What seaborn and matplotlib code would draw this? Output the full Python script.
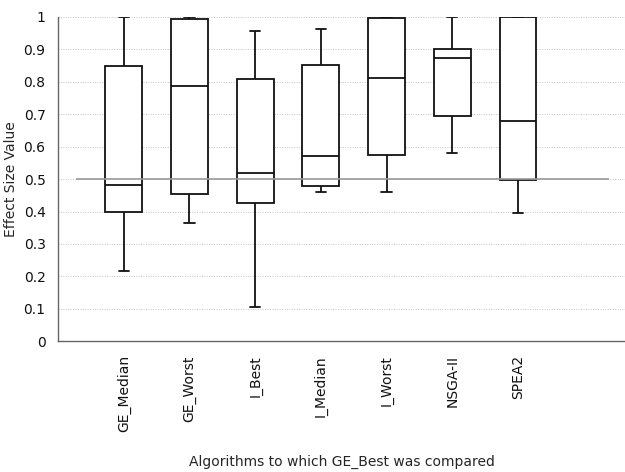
import matplotlib
matplotlib.use("Agg")
import matplotlib.pyplot as plt
import numpy as np
import pandas as pd
import seaborn as sns

# Summary values (whisker low, Q1, median, Q3, whisker high)
algorithms = ['GE_Median', 'GE_Worst', 'I_Best', 'I_Median', 'I_Worst', 'NSGA-II', 'SPEA2']
whisker_low = [0.216, 0.364, 0.106, 0.461, 0.461, 0.581, 0.397]
q1 = [0.399, 0.454, 0.425, 0.479, 0.575, 0.696, 0.496]
median = [0.483, 0.786, 0.519, 0.571, 0.811, 0.872, 0.680]
q3 = [0.848, 0.995, 0.809, 0.851, 0.998, 0.902, 1.000]
whisker_high = [1.000, 1.000, 0.958, 0.963, 1.000, 1.000, 1.000]
y_ticks = [0, 0.1, 0.2, 0.3, 0.4, 0.5, 0.6, 0.7, 0.8, 0.9, 1]
reference_level = 0.5

# five points per group -> quartiles land exactly on the read values
rows = []
for i, name in enumerate(algorithms):
    for v in (whisker_low[i], q1[i], median[i], q3[i], whisker_high[i]):
        rows.append({'algorithm': name, 'value': v})
df = pd.DataFrame(rows)

sns.set_style('white')
plt.rcParams['font.family'] = ['DejaVu Sans']

fig = plt.figure(figsize=(6.25, 4.72), dpi=100)
ax = fig.add_axes([0.093, 0.277, 0.907, 0.687])

line_kw = dict(color='#111111', linewidth=1.3)
sns.boxplot(data=df, x='algorithm', y='value', order=algorithms, ax=ax,
            whis=np.inf, width=0.56, color='white', linecolor='#111111',
            linewidth=1.3, showfliers=False, capwidths=0.16,
            boxprops=dict(facecolor='white', edgecolor='#111111', linewidth=1.3, zorder=3),
            medianprops=dict(color='#111111', linewidth=1.3, zorder=4),
            whiskerprops=dict(zorder=3, **line_kw),
            capprops=dict(zorder=3, **line_kw))

# reference line at 0.5
ax.hlines(reference_level, -0.73, 7.38, color='#999999', linewidth=1.2, zorder=5)

ax.set_xlim(-1, 7.63)
ax.set_ylim(0, 1.0)
ax.set_yticks(y_ticks)
ax.set_yticklabels([f'{t:g}' for t in y_ticks])
ax.yaxis.grid(True, linestyle=(0, (1, 1.5)), color='#c4c4c4', linewidth=0.7, zorder=0)
ax.set_axisbelow(True)

for side in ['top', 'right']:
    ax.spines[side].set_visible(False)
for side in ['left', 'bottom']:
    ax.spines[side].set_color('#666666')
    ax.spines[side].set_linewidth(1.0)

ax.tick_params(axis='x', direction='in', length=4, width=1, color='#666666',
               pad=10, labelsize=10, labelrotation=90, labelcolor='#111111')
ax.tick_params(axis='y', length=0, pad=9, labelsize=10, labelcolor='#111111')

ax.set_xlabel('Algorithms to which GE_Best was compared', fontsize=10)
ax.set_ylabel('Effect Size Value', fontsize=10)
ax.xaxis.set_label_coords(0.5, -0.35)
ax.yaxis.set_label_coords(-0.07, 0.5)

fig.savefig('out.png', dpi=100)
